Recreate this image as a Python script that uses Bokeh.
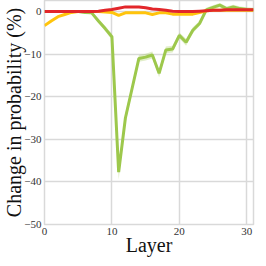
from bokeh.plotting import figure
from bokeh.models import FixedTicker, Range1d
from bokeh.embed import file_html
from bokeh.resources import INLINE

layers = list(range(32))
green = [0.0, 0.0, 0.0, 0.0, 0.0, 0.0, -0.2, -0.3, -2.2, -4.0, -5.9, -37.7,
         -25.0, -18.0, -11.0, -10.7, -10.2, -14.5, -9.0, -8.8, -5.6, -7.2,
         -4.4, -2.8, 0.4, 1.0, 1.5, 0.7, 1.1, 0.7, 0.5, 0.4]
green_err = [0.3, 0.3, 0.3, 0.3, 0.3, 0.3, 0.3, 0.3, 0.5, 0.6, 0.7, 1.8,
             1.2, 1.0, 0.8, 0.8, 0.8, 0.9, 0.8, 0.8, 0.7, 0.8,
             0.7, 0.6, 0.5, 0.5, 0.5, 0.5, 0.5, 0.5, 0.5, 0.5]
yellow = [-3.3, -2.2, -1.2, -0.7, -0.2, 0.0, 0.0, 0.0, 0.0, -0.1, -0.2, -0.9,
          -0.3, -0.3, -0.3, -0.3, -0.7, -0.3, -0.3, -0.6, -0.6, -0.6,
          -0.6, -0.2, 0.2, 0.3, 0.3, 0.3, 0.3, 0.3, 0.3, 0.3]
red = [0.0, 0.0, 0.0, 0.0, 0.0, 0.0, 0.0, 0.0, 0.1, 0.3, 0.5, 0.8,
       1.1, 1.1, 1.1, 0.9, 0.6, 0.5, 0.3, 0.1, 0.0, 0.0,
       0.0, 0.1, 0.2, 0.3, 0.3, 0.4, 0.4, 0.4, 0.4, 0.4]
x_ticks = [0, 10, 20, 30]
y_ticks = [0, -10, -20, -30, -40, -50]

p = figure(width=258, height=258, output_backend="svg", toolbar_location=None,
           x_range=Range1d(0, 31), y_range=Range1d(-50, 2.6),
           min_border_left=0, min_border_top=0, min_border_right=5, min_border_bottom=0)

lo = [g - e for g, e in zip(green, green_err)]
hi = [g + e for g, e in zip(green, green_err)]
p.varea(x=layers, y1=lo, y2=hi, fill_color="#9dc84c", fill_alpha=0.3)
p.line(layers, green, line_color="#9dc84c", line_width=3)
p.line(layers, yellow, line_color="#ffc40c", line_width=3)
p.line(layers, red, line_color="#e2262a", line_width=3)

font = "'Liberation Serif', 'Times New Roman', serif"
for ax in (p.xaxis[0], p.yaxis[0]):
    ax.axis_line_color = None
    ax.major_tick_line_color = None
    ax.minor_tick_line_color = None
    ax.major_label_text_font = font
    ax.major_label_text_font_size = "11px"
    ax.major_label_text_color = "#333333"
    ax.axis_label_text_font = font
    ax.axis_label_text_font_style = "normal"
    ax.axis_label_text_color = "#111111"
    ax.major_tick_out = 0
    ax.major_tick_in = 0

p.xaxis.major_label_standoff = 3
p.yaxis.major_label_standoff = 3
p.xaxis.axis_label_standoff = -4
p.yaxis.axis_label_standoff = -4

p.xaxis.ticker = FixedTicker(ticks=x_ticks)
p.yaxis.ticker = FixedTicker(ticks=y_ticks)
p.xaxis.axis_label = "Layer"
p.yaxis.axis_label = "Change in probability (%)"
p.xaxis.axis_label_text_font_size = "20px"
p.yaxis.axis_label_text_font_size = "20px"

p.xgrid.ticker = FixedTicker(ticks=x_ticks)
p.ygrid.ticker = FixedTicker(ticks=y_ticks)
p.grid.grid_line_color = "#d9d9d9"
p.grid.grid_line_width = 1.5
p.outline_line_color = "#d9d9d9"
p.outline_line_width = 1.5
p.background_fill_color = "white"
p.border_fill_color = "white"

open("out.html", "w").write(file_html(p, INLINE))
